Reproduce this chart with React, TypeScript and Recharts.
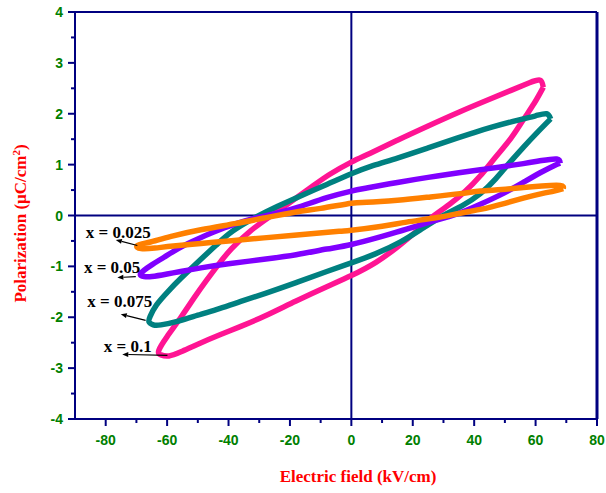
import React from 'react';
import { ComposedChart, Line, XAxis, YAxis, ReferenceLine, ReferenceDot } from 'recharts';

// Electric field (kV/cm), Polarization (uC/cm2) pairs traced along each loop
const pinkUpper: number[][] = [[62.5,2.52],[61.5,2.66],[58,2.61],[52,2.46],[44,2.26],[35,2.03],[25,1.76],[15,1.48],[6,1.22],[0,1.05],[-7,0.81],[-13,0.56],[-19,0.3],[-26,0],[-33,-0.31],[-39,-0.65],[-43,-0.94],[-47,-1.26],[-51,-1.6],[-55.5,-2.0],[-60,-2.38],[-62.7,-2.65]];
const pinkLower: number[][] = [[-62,-2.74],[-59.4,-2.76],[-55.5,-2.68],[-50,-2.53],[-43,-2.35],[-36,-2.18],[-28,-1.97],[-18,-1.68],[-8,-1.4],[0,-1.18],[8,-0.92],[15,-0.62],[21,-0.32],[27,0],[32,0.22],[37,0.47],[42,0.78],[47,1.15],[52,1.52],[56,1.88],[59.5,2.2],[62.5,2.52]];

const tealUpper: number[][] = [[64.9,1.9],[63.6,2.0],[60,1.96],[54,1.87],[46,1.74],[40,1.63],[34.4,1.52],[25,1.33],[15,1.13],[7,0.98],[0,0.82],[-8,0.61],[-16,0.4],[-24,0.18],[-31,-0.03],[-38.5,-0.3],[-44,-0.58],[-49,-0.86],[-55.6,-1.24],[-59.5,-1.48],[-63.5,-1.76],[-65.5,-1.98],[-65.9,-2.09]];
const tealLower: number[][] = [[-64.5,-2.15],[-62,-2.15],[-56,-2.07],[-50,-1.96],[-43,-1.83],[-36,-1.69],[-28,-1.53],[-18,-1.32],[-8,-1.1],[0,-0.93],[8,-0.75],[16,-0.52],[23,-0.26],[30,0],[36,0.19],[42,0.43],[47,0.72],[51,1.0],[56,1.34],[60.5,1.63],[64.9,1.9]];

const purpleUpper: number[][] = [[68,1.03],[66.9,1.11],[62,1.08],[56,1.02],[48,0.95],[42,0.9],[35,0.84],[25,0.75],[15,0.65],[5,0.54],[0,0.48],[-8,0.35],[-17,0.17],[-24,0.05],[-31,-0.05],[-38,-0.17],[-45,-0.33],[-50,-0.46],[-55.5,-0.62],[-61,-0.82],[-65,-0.97],[-68.6,-1.14]];
const purpleLower: number[][] = [[-67.5,-1.2],[-65,-1.2],[-60,-1.15],[-55.6,-1.1],[-49,-1.03],[-40,-0.95],[-28.5,-0.86],[-18,-0.77],[-8,-0.66],[0,-0.57],[10,-0.41],[18,-0.27],[26,-0.12],[34,0.02],[42,0.22],[50,0.45],[56,0.65],[61.5,0.84],[66,0.98],[68,1.03]];

const orangeUpper: number[][] = [[69,0.53],[68,0.59],[62,0.58],[56,0.55],[49,0.51],[42,0.48],[35.4,0.43],[25,0.36],[15,0.3],[5,0.26],[0,0.24],[-10,0.14],[-18,0.07],[-28.5,-0.05],[-38,-0.16],[-49,-0.28],[-58,-0.4],[-65.4,-0.52],[-69.7,-0.59]];
const orangeLower: number[][] = [[-68.5,-0.65],[-64,-0.64],[-58,-0.6],[-49,-0.55],[-40,-0.5],[-28.5,-0.44],[-15,-0.37],[-4,-0.31],[0,-0.29],[10,-0.21],[18,-0.13],[28,-0.04],[35,0.04],[42,0.12],[50,0.24],[56,0.34],[62,0.43],[66,0.48],[69,0.53]];

const seriesNames = ['x = 0.1', 'x = 0.075', 'x = 0.05', 'x = 0.025'];
const seriesColors = ['#FF1493', '#008080', '#8000FF', '#FF8000'];

const xTicks = [-80, -70, -60, -50, -40, -30, -20, -10, 0, 10, 20, 30, 40, 50, 60, 70, 80];
const xMajorStep = 20;
const yTicks = [-4, -3.5, -3, -2.5, -2, -1.5, -1, -0.5, 0, 0.5, 1, 1.5, 2, 2.5, 3, 3.5, 4];

// annotation text anchors and arrows (data coordinates)
const labelPos: number[][] = [[-80.6, -2.56], [-86.0, -1.68], [-87.1, -1.01], [-86.5, -0.33]];
const arrowStart: number[][] = [[-59.9, -2.75], [-67, -2.06], [-70.2, -1.2], [-69.7, -0.59]];
const arrowTip: number[][] = [[-74.6, -2.73], [-75.1, -1.94], [-76.2, -1.22], [-76.7, -0.48]];

const toPts = (a: number[][]) => a.map(([x, y]) => ({ x, y }));
const loops = [
  toPts([...pinkUpper, ...pinkLower]),
  toPts([...tealUpper, ...tealLower]),
  toPts([...purpleUpper, ...purpleLower]),
  toPts([...orangeUpper, ...orangeLower]),
];

const NAVY = '#000080';
const GREEN = '#008000';
const tickFont = '"Liberation Sans", Arial, sans-serif';
const titleFont = '"Liberation Serif", "Times New Roman", serif';

const XTick = (props: any) => {
  const { x, y, payload } = props;
  const major = payload.value % xMajorStep === 0;
  return (
    <g>
      <line x1={x} x2={x} y1={y} y2={y + (major ? 7 : 4)} stroke={NAVY} strokeWidth={2} />
      {major && (
        <text x={x} y={y + 26} textAnchor="middle" fill={GREEN} fontFamily={tickFont} fontWeight="bold" fontSize={14}>
          {payload.value}
        </text>
      )}
    </g>
  );
};

const YTick = (props: any) => {
  const { x, y, payload } = props;
  const major = Number.isInteger(payload.value);
  return (
    <g>
      <line x1={x} x2={x - (major ? 7 : 4)} y1={y} y2={y} stroke={NAVY} strokeWidth={2} />
      {major && (
        <text x={x - 12} y={y} dy="0.36em" textAnchor="end" fill={GREEN} fontFamily={tickFont} fontWeight="bold" fontSize={14}>
          {payload.value}
        </text>
      )}
    </g>
  );
};

const XTitle = (props: any) => {
  const vb = props.viewBox;
  return (
    <text x={vb.x + vb.width / 2 + 22} y={vb.y + 63} textAnchor="middle" fill="#FF0000" fontFamily={titleFont} fontWeight="bold" fontSize={17}>
      Electric field (kV/cm)
    </text>
  );
};

const YTitle = (props: any) => {
  const vb = props.viewBox;
  const cx = 20;
  const cy = vb.y + vb.height / 2 + 8;
  return (
    <text x={cx} y={cy} transform={`rotate(-90 ${cx} ${cy})`} textAnchor="middle" dy="0.35em" fill="#FF0000" fontFamily={titleFont} fontWeight="bold" fontSize={17}>
      Polarization (μC/cm<tspan dy={-6} fontSize={11}>2</tspan><tspan dy={6}>)</tspan>
    </text>
  );
};

const Arrow = (props: any) => {
  const { x1, y1, x2, y2 } = props;
  const ang = Math.atan2(y2 - y1, x2 - x1);
  const L = 6, W = 2.5;
  const bx = x2 - L * Math.cos(ang), by = y2 - L * Math.sin(ang);
  const px = -Math.sin(ang) * W, py = Math.cos(ang) * W;
  return (
    <g>
      <line x1={x1} y1={y1} x2={bx} y2={by} stroke="#000" strokeWidth={1.2} />
      <polygon points={`${x2},${y2} ${bx + px},${by + py} ${bx - px},${by - py}`} fill="#000" />
    </g>
  );
};

export default function App() {
  return (
    <div style={{ position: 'absolute', left: 0, top: 0, background: '#fff' }}>
      <ComposedChart width={606} height={493} margin={{ top: 12, right: 9, left: 0, bottom: 0 }}>
        <XAxis
          dataKey="x"
          type="number"
          domain={[-90, 80]}
          ticks={xTicks}
          allowDataOverflow
          height={74}
          tickSize={0}
          tickMargin={0}
          tickLine={false}
          axisLine={{ stroke: NAVY, strokeWidth: 2 }}
          tick={<XTick />}
          interval={0}
          label={<XTitle />}
        />
        <YAxis
          dataKey="y"
          type="number"
          domain={[-4, 4]}
          ticks={yTicks}
          allowDataOverflow
          width={75}
          tickSize={0}
          tickMargin={0}
          tickLine={false}
          axisLine={{ stroke: NAVY, strokeWidth: 2 }}
          tick={<YTick />}
          interval={0}
          label={<YTitle />}
        />
        <ReferenceLine y={4} stroke={NAVY} strokeWidth={2} ifOverflow="visible" />
        <ReferenceLine x={80} stroke={NAVY} strokeWidth={3} ifOverflow="visible" />
        <ReferenceLine y={0} stroke={NAVY} strokeWidth={2} />
        <ReferenceLine x={0} stroke={NAVY} strokeWidth={2} />
        {loops.map((d, i) => (
          <Line
            key={seriesNames[i]}
            name={seriesNames[i]}
            data={d}
            dataKey="y"
            type="natural"
            stroke={seriesColors[i]}
            strokeWidth={5.5}
            strokeLinejoin="round"
            dot={false}
            activeDot={false}
            isAnimationActive={false}
          />
        ))}
        {seriesNames.map((n, i) => (
          <ReferenceLine
            key={'arr' + n}
            segment={[{ x: arrowStart[i][0], y: arrowStart[i][1] }, { x: arrowTip[i][0], y: arrowTip[i][1] }]}
            ifOverflow="visible"
            shape={<Arrow />}
          />
        ))}
        {seriesNames.map((n, i) => (
          <ReferenceDot
            key={'lbl' + n}
            x={labelPos[i][0]}
            y={labelPos[i][1]}
            r={0}
            ifOverflow="visible"
            shape={(p: any) => (
              <text x={p.cx} y={p.cy} dy="0.35em" textAnchor="start" fill="#000" fontFamily={titleFont} fontWeight="bold" fontSize={17}>
                {n}
              </text>
            )}
          />
        ))}
      </ComposedChart>
    </div>
  );
}
